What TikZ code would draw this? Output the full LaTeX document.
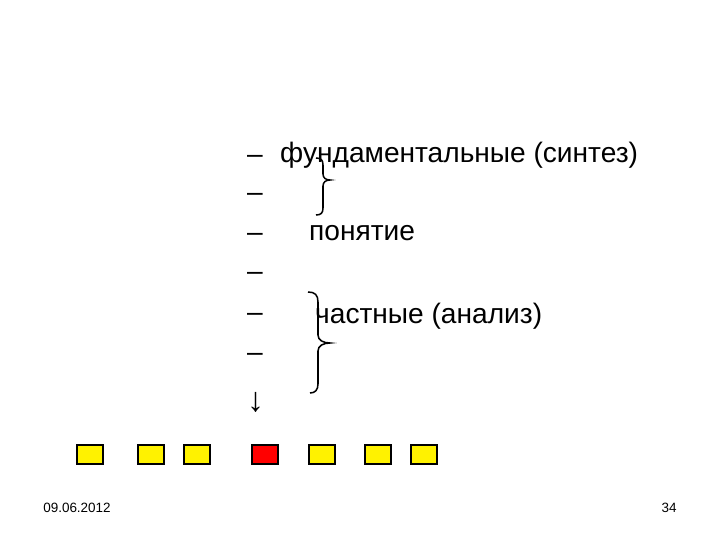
\documentclass[tikz,border=0pt]{standalone}
\usepackage{fontspec}
\setmainfont{Liberation Sans}
\tikzset{
  big/.style={font=\fontsize{24}{28}\selectfont, inner sep=0pt, anchor=west},
  cell/.style={draw, line width=1pt, minimum width=0.78cm, minimum height=0.57cm, inner sep=0pt},
  foot/.style={font=\fontsize{11.5}{13}\selectfont, inner sep=0pt}
}
\begin{document}
\begin{tikzpicture}[x=0.03cm,y=-0.03cm]
      \useasboundingbox[fill=white] (0,0) rectangle (720,540);

      \node[big] (D1) at (247,159){--};
      \node[big] (D2) at (247,197){--};
      \node[big] (D3) at (247,237){--};
      \node[big] (D4) at (247,276){--};
      \node[big] (D5) at (247,317){--};
      \node[big] (D6) at (247,357){--};
      \node[big, font=\fontsize{29}{30}\selectfont] (Dn) at (247,402){↓};

      \node[big] (F) at (280,155){фундаментальные (синтез)};
      \node[big] (P) at (309,233){понятие};
      \node[big] (A) at (315,316){частные (анализ)};

      % braces
      \draw[line width=1.3pt] (316,158) .. controls (321,158) and (323,160) .. (323,165) -- (323,174)
        .. controls (323,178) and (326,180) .. (330,180) .. controls (326,180) and (323,182) .. (323,186)
        -- (323,208) .. controls (323,213) and (321,215) .. (316,215);
      \draw[line width=1.3pt] (308,292) .. controls (315,292) and (318,295) .. (318,302) -- (318,335)
        .. controls (318,340) and (323,343) .. (330,343) .. controls (323,343) and (318,346) .. (318,351)
        -- (318,384) .. controls (318,390) and (315,393) .. (310,393);

      \node[cell, fill=yellow] (S1) at (90,454.5){};
      \node[cell, fill=yellow] (S2) at (151,454.5){};
      \node[cell, fill=yellow] (S3) at (197,454.5){};
      \node[cell, fill=red] (S4) at (265,454.5){};
      \node[cell, fill=yellow] (S5) at (322,454.5){};
      \node[cell, fill=yellow] (S6) at (378,454.5){};
      \node[cell, fill=yellow] (S7) at (424,454.5){};

      \node[foot] (date) at (77,508){09.06.2012};
      \node[foot] (page) at (669,508){34};
    \end{tikzpicture}
\end{document}
